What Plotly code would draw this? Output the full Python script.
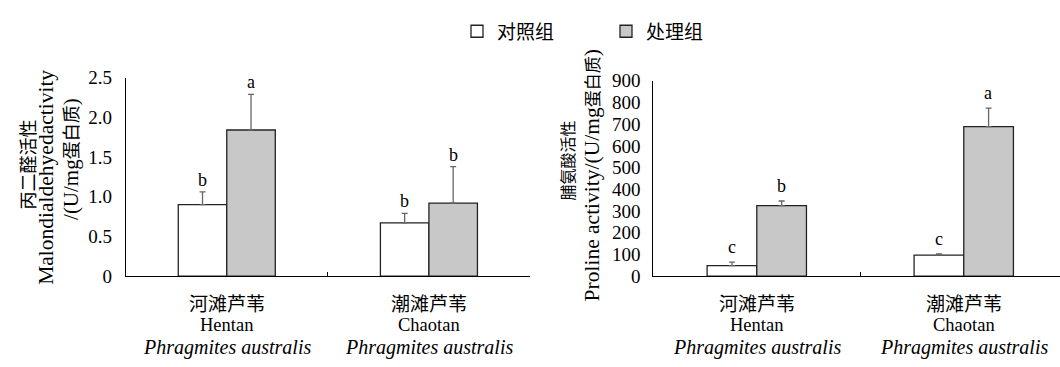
import plotly.graph_objects as go

# ---------------- data ----------------
categories = ["Hentan", "Chaotan"]
cat_cn = ["河滩芦苇", "潮滩芦苇"]
cat_en = ["Hentan", "Chaotan"]
species = ["Phragmites australis", "Phragmites australis"]
series_names = ["对照组", "处理组"]

mda_ctrl = [0.90, 0.67]
mda_ctrl_err = [0.16, 0.12]
mda_trt = [1.84, 0.92]
mda_trt_err = [0.45, 0.46]
mda_ctrl_letters = ["b", "b"]
mda_trt_letters = ["a", "b"]

pro_ctrl = [48, 97]
pro_ctrl_err = [17, 5]
pro_trt = [325, 689]
pro_trt_err = [21, 85]
pro_ctrl_letters = ["c", "c"]
pro_trt_letters = ["b", "a"]

mda_ticks = [0, 0.5, 1.0, 1.5, 2.0, 2.5]
mda_ticktext = ["0", "0.5", "1.0", "1.5", "2.0", "2.5"]
pro_ticks = [0, 100, 200, 300, 400, 500, 600, 700, 800, 900]
pro_ticktext = ["0", "100", "200", "300", "400", "500", "600", "700", "800", "900"]

# ---------------- style ----------------
FONT = "Liberation Serif, Times New Roman, serif"
CJKF = "Noto Sans CJK SC"
WHITE = "#ffffff"
GRAY = "#c8c8c8"
EDGE = "#222222"
ERRC = "#666666"
W, H = 1060, 367

fig = go.Figure()


def add_bars(vals, errs, name, color, xa, ya, show):
    fig.add_trace(go.Bar(
        x=categories, y=vals, name=name, showlegend=show, legendgroup=name,
        marker=dict(color=color, line=dict(color=EDGE, width=1.3)),
        error_y=dict(type="data", array=errs, arrayminus=[0] * len(errs), symmetric=False,
                     color=ERRC, thickness=1.3, width=3),
        xaxis=xa, yaxis=ya, hoverinfo="skip",
    ))


add_bars(mda_ctrl, mda_ctrl_err, series_names[0], WHITE, "x", "y", True)
add_bars(mda_trt, mda_trt_err, series_names[1], GRAY, "x", "y", True)
add_bars(pro_ctrl, pro_ctrl_err, series_names[0], WHITE, "x2", "y2", False)
add_bars(pro_trt, pro_trt_err, series_names[1], GRAY, "x2", "y2", False)

annotations = []


def letters(vals, errs, labs, xref, yref, shift, yshift):
    for c, v, e, t in zip(categories, vals, errs, labs):
        annotations.append(dict(
            x=c, y=v + e, xref=xref, yref=yref, text=t, showarrow=False,
            xanchor="center", yanchor="bottom", xshift=shift, yshift=yshift,
            font=dict(family=FONT, size=18, color="black")))


letters(mda_ctrl, mda_ctrl_err, mda_ctrl_letters, "x", "y", -24.2, 0)
letters(mda_trt, mda_trt_err, mda_trt_letters, "x", "y", 24.2, 0)
letters(pro_ctrl, pro_ctrl_err, pro_ctrl_letters, "x2", "y2", -24.7, 3)
letters(pro_trt, pro_trt_err, pro_trt_letters, "x2", "y2", 24.7, 3)


def py(px):
    return 1 - px / H


# category labels under each plot
for xref in ["x", "x2"]:
    for c, cn, en, sp in zip(categories, cat_cn, cat_en, species):
        annotations.append(dict(x=c, xref=xref, y=py(310.5), yref="paper", text=cn,
                                showarrow=False, yanchor="middle",
                                font=dict(family=CJKF, size=19, color="black")))
        annotations.append(dict(x=c, xref=xref, y=py(334.5), yref="paper", text=en,
                                showarrow=False, yanchor="middle",
                                font=dict(family=FONT, size=18.5, color="black")))
        annotations.append(dict(x=c, xref=xref, y=py(357.5), yref="paper", text="<i>" + sp + "</i>",
                                showarrow=False, yanchor="middle",
                                font=dict(family=FONT, size=20, color="black")))


def cjk(t, s):
    return "<span style='font-family:Noto Sans CJK SC;font-size:%dpx'>%s</span>" % (s, t)


# y axis titles (rotated text lines)
title_lines = [
    (27 / W, py(164), cjk("丙二醛活性", 18), 21),
    (46 / W, py(178), "Malondialdehyedactivity", 21.5),
    (70 / W, py(158), "/(U/mg" + cjk("蛋白质", 18) + ")", 21),
    (566.7 / W, py(160), cjk("脯氨酸活性", 16), 21),
    (591.5 / W, py(176), "Proline activity/(U/mg" + cjk("蛋白质", 17) + ")", 21.5),
]
for x, y, t, s in title_lines:
    annotations.append(dict(x=x, y=y, xref="paper", yref="paper", text=t, textangle=-90,
                            showarrow=False, xanchor="center", yanchor="middle",
                            font=dict(family=FONT, size=s, color="black")))

axis_common = dict(showline=True, linecolor="black", linewidth=1, showgrid=False,
                   zeroline=False, mirror=False)

fig.update_layout(
    width=W, height=H, autosize=False,
    margin=dict(l=0, r=0, t=0, b=0),
    paper_bgcolor="white", plot_bgcolor="white",
    barmode="group", bargap=0.52, bargroupgap=0,
    font=dict(family=FONT, size=17, color="black"),
    showlegend=True,
    legend=dict(orientation="h", x=457 / W, y=py(22.7), xanchor="left", yanchor="middle",
                entrywidth=104, entrywidthmode="pixels",
                font=dict(family=CJKF, size=19, color="black"),
                bgcolor="rgba(0,0,0,0)", traceorder="normal"),
    xaxis=dict(domain=[125.7 / W, 530 / W], range=[-0.5, 1.5], showticklabels=False,
               ticks="inside", tickson="boundaries", ticklen=4, tickcolor="black",
               anchor="y", **axis_common),
    yaxis=dict(domain=[py(282.3), py(71.7)], range=[0, 2.5], tickvals=mda_ticks,
               ticktext=mda_ticktext, ticks="", ticklabelstandoff=9,
               tickfont=dict(family=FONT, size=19), anchor="x", **axis_common),
    xaxis2=dict(domain=[653.3 / W, 1.0], range=[-0.5, 1.465], showticklabels=False,
                ticks="inside", tickson="boundaries", ticklen=4, tickcolor="black",
                anchor="y2", **axis_common),
    yaxis2=dict(domain=[py(282.3), py(75)], range=[0, 900], tickvals=pro_ticks,
                ticktext=pro_ticktext, ticks="", ticklabelstandoff=8,
                tickfont=dict(family=FONT, size=19), anchor="x2", **axis_common),
    annotations=annotations,
)

fig.write_html("out.html")
